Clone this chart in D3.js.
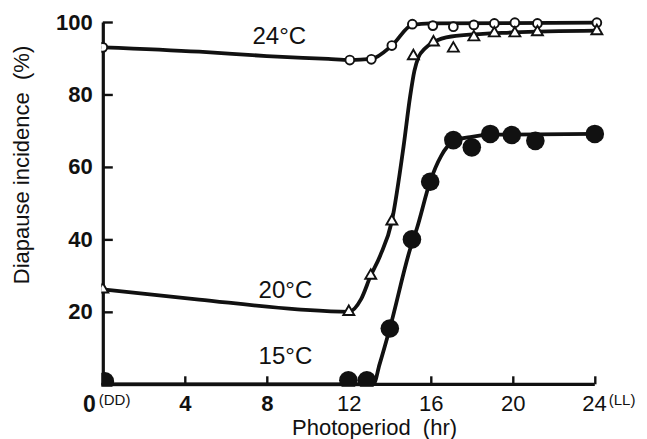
<!DOCTYPE html>
<html>
<head>
<meta charset="utf-8">
<script src="https://cdn.jsdelivr.net/npm/d3@7"></script>
<style>
  html, body { margin: 0; padding: 0; background: #fff; }
  svg { display: block; }
  text { font-family: "Liberation Sans", Arial, sans-serif; fill: #111; }
</style>
</head>
<body>
<svg id="chart" width="647" height="439"></svg>
<script>
// ---- Data ----
// Observed points
const hours24 = [0, 12.05, 13.1, 14.1, 15.1, 16.1, 17.1, 18.1, 19.1, 20.1, 21.2, 24.1];
const inc24   = [93.0, 89.5, 89.7, 93.5, 99.4, 99.0, 98.7, 99.2, 99.6, 99.8, 99.6, 99.8];

const hours20 = [0, 12.0, 13.07, 14.1, 15.15, 16.13, 17.1, 18.1, 19.1, 20.1, 21.2, 24.1];
const inc20   = [26.2, 20.0, 30.0, 45.0, 90.6, 94.4, 92.7, 95.8, 96.9, 96.9, 97.2, 97.5];

const hours15 = [0.1, 11.98, 12.88, 14.0, 15.08, 15.97, 17.1, 18.0, 18.9, 19.95, 21.1, 24.0];
const inc15   = [0.8, 1.1, 1.1, 15.4, 40.0, 55.9, 67.4, 65.4, 69.1, 68.8, 67.2, 69.1];

// Fitted curves drawn through the points
const fit24Hours = [0, 4.7, 8, 11, 12.05, 13.1, 14.1, 15.1, 16, 24.1];
const fit24Inc   = [93, 91.8, 90.6, 89.8, 89.5, 89.8, 93.5, 99.2, 99.6, 99.8];

const fit20Hours = [0, 4.7, 9.5, 12.0, 12.6, 13.07, 13.53, 14.1, 14.67, 14.99, 15.2, 15.4, 15.7, 16.13, 17, 20, 24.1];
const fit20Inc   = [26.2, 23.4, 20.7, 20.0, 23.5, 30.0, 35.5, 45.0, 65.6, 79.4, 86.5, 90.3, 92.6, 94.4, 96.0, 97.1, 97.6];

const fit15Hours = [0, 13.2, 13.5, 14.0, 15.0, 15.32, 15.97, 16.5, 17.1, 18.0, 19.0, 24.0];
const fit15Inc   = [0, 0, 5.5, 15.4, 37.5, 43.0, 56.0, 63.0, 67.0, 68.3, 68.9, 69.1];

// Axis ticks
const xTicks = [4, 8, 12, 16, 20, 24];
const yTicks = [20, 40, 60, 80, 100];

// Labels
const seriesLabels = [
  { text: "24°C", h: 7.3, v: 93.8 },
  { text: "20°C", h: 7.6, v: 23.9 },
  { text: "15°C", h: 7.6, v: 5.7 }
];

// ---- Drawing ----
const svg = d3.select("#chart");
const x = d3.scaleLinear().domain([0, 24]).range([102.8, 594.8]);
const y = d3.scaleLinear().domain([0, 100]).range([384.3, 22]);

const toPts = (hs, vs) => hs.map((h, i) => [h, vs[i]]);

// clip for marks (so the origin dot is trimmed by the axes like the original)
svg.append("defs").append("clipPath").attr("id", "plotclip")
  .append("rect")
  .attr("x", x(0) - 1.5).attr("y", 0)
  .attr("width", 647 - x(0)).attr("height", y(0) + 2.5);

// Axes
const yAxis = d3.axisLeft(y).tickValues(yTicks).tickSize(-10).tickSizeOuter(0).tickPadding(10);
const gy = svg.append("g").attr("transform", `translate(${x(0)},0)`).call(yAxis);
gy.select(".domain").attr("stroke", "#111").attr("stroke-width", 3.2);
gy.selectAll(".tick line").attr("stroke", "#111").attr("stroke-width", 2.4);
gy.selectAll(".tick text")
  .style("font-family", '"Liberation Sans", Arial, sans-serif')
  .style("font-size", "22px").style("font-weight", "bold").attr("fill", "#111");

const xAxis = d3.axisBottom(x).tickValues(xTicks).tickSize(-8).tickSizeOuter(0).tickPadding(11);
const gx = svg.append("g").attr("transform", `translate(0,${y(0)})`).call(xAxis);
gx.select(".domain").attr("stroke", "#111").attr("stroke-width", 3.2)
  .attr("d", `M${x(0)},0H${x(24)}`);
gx.selectAll(".tick line").attr("stroke", "#111").attr("stroke-width", 2.4);
gx.selectAll(".tick text")
  .style("font-family", '"Liberation Sans", Arial, sans-serif')
  .style("font-size", "22px")
  .style("font-weight", d => d <= 8 ? "bold" : "normal")
  .attr("fill", "#111");
// (LL) superscript after 24
gx.selectAll(".tick").filter(d => d === 24).select("text")
  .attr("text-anchor", "start").attr("x", -13)
  .append("tspan").attr("dx", 2).attr("dy", "-0.4em")
  .style("font-size", "15px").text("(LL)");

// Origin label "0 (DD)"
const og = svg.append("g").attr("transform", `translate(0,${y(0)})`);
og.append("text").attr("x", x(0) - 7).attr("y", 11).attr("dy", "0.71em")
  .attr("text-anchor", "end")
  .style("font-size", "23px").style("font-weight", "bold").text("0");
og.append("text").attr("x", x(0) - 4).attr("y", 10).attr("dy", "0.71em")
  .attr("text-anchor", "start")
  .style("font-size", "15px").text("(DD)");

// Axis titles
svg.append("text").attr("x", 292).attr("y", 435)
  .style("font-size", "22px").attr("xml:space", "preserve")
  .text("Photoperiod  (hr)");
svg.append("text")
  .attr("transform", `translate(29,${165}) rotate(-90)`)
  .attr("text-anchor", "middle")
  .style("font-size", "22px").attr("xml:space", "preserve")
  .text("Diapause incidence  (%)");

// Curves
const line = d3.line().x(d => x(d[0])).y(d => y(d[1])).curve(d3.curveMonotoneX);
const marks = svg.append("g").attr("clip-path", "url(#plotclip)");
[[fit24Hours, fit24Inc], [fit20Hours, fit20Inc], [fit15Hours, fit15Inc]].forEach(([h, v]) => {
  marks.append("path").datum(toPts(h, v))
    .attr("d", line).attr("fill", "none")
    .attr("stroke", "#111").attr("stroke-width", 3.8)
    .attr("stroke-linejoin", "round").attr("stroke-linecap", "round");
});

// Points: 24°C open circles
marks.selectAll(".c24").data(toPts(hours24, inc24)).join("circle")
  .attr("cx", d => x(d[0])).attr("cy", d => y(d[1])).attr("r", 4.4)
  .attr("fill", "#fff").attr("stroke", "#111").attr("stroke-width", 1.9);

// 20°C open triangles
const tri = d3.symbol().type(d3.symbolTriangle).size(52);
marks.selectAll(".t20").data(toPts(hours20, inc20)).join("path")
  .attr("d", tri)
  .attr("transform", d => `translate(${x(d[0])},${y(d[1])})`)
  .attr("fill", "#fff").attr("stroke", "#111").attr("stroke-width", 1.9)
  .attr("stroke-linejoin", "miter");

// 15°C filled circles
marks.selectAll(".c15").data(toPts(hours15, inc15)).join("circle")
  .attr("cx", d => x(d[0])).attr("cy", d => y(d[1])).attr("r", 9.3)
  .attr("fill", "#111");

// Series labels
svg.selectAll(".lab").data(seriesLabels).join("text")
  .attr("x", d => x(d.h)).attr("y", d => y(d.v))
  .style("font-size", "24px").text(d => d.text);
</script>
</body>
</html>
